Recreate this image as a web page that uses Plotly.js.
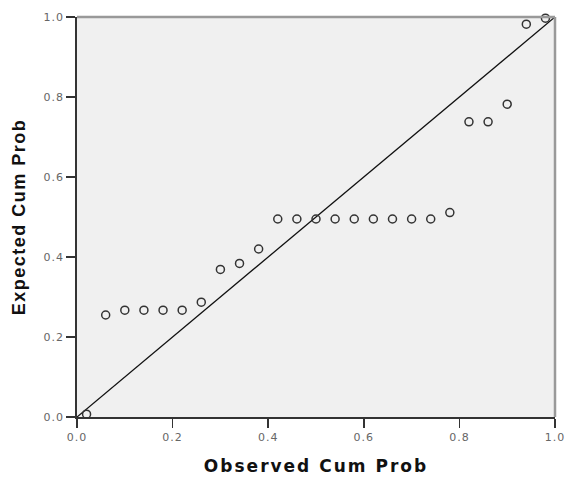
<!DOCTYPE html>
<html>
<head>
<meta charset="utf-8">
<script src="https://cdn.plot.ly/plotly-3.0.1.min.js"></script>
<style>
html,body{margin:0;padding:0;background:#fff;}
#chart{width:565px;height:477px;}
#chart .xtitle{letter-spacing:2px;}
#chart .ytitle{letter-spacing:1.5px;}
#chart .xtick text, #chart .ytick text{letter-spacing:1px;}
</style>
</head>
<body>
<div id="chart"></div>
<script>
const observed = [0.02,0.06,0.10,0.14,0.18,0.22,0.26,0.30,0.34,0.38,0.42,0.46,0.50,0.54,0.58,0.62,0.66,0.70,0.74,0.78,0.82,0.86,0.90,0.94,0.98];
const expected = [0.007,0.255,0.267,0.267,0.267,0.267,0.287,0.369,0.384,0.42,0.495,0.495,0.495,0.495,0.495,0.495,0.495,0.495,0.495,0.511,0.738,0.738,0.782,0.982,0.997];
const refLine = [0, 1];
const tickVals = [0, 0.2, 0.4, 0.6, 0.8, 1.0];
const tickText = ["0.0", "0.2", "0.4", "0.6", "0.8", "1.0"];

const traces = [
  {x: refLine, y: refLine, mode: 'lines', line: {color: '#111', width: 1.3}, hoverinfo: 'skip'},
  {x: observed, y: expected, mode: 'markers', cliponaxis: false,
   marker: {symbol: 'circle-open', size: 8, color: '#333', line: {width: 1.5, color: '#333'}}}
];

const axisCommon = {
  range: [0, 1], tickvals: tickVals, ticktext: tickText,
  ticks: 'outside', ticklen: 9, tickwidth: 1.5, tickcolor: '#333',
  showline: true, linecolor: '#333', linewidth: 1.8,
  showgrid: false, zeroline: false,
  tickfont: {family: 'DejaVu Sans, Verdana, sans-serif', size: 11, color: '#666'}
};

const layout = {
  width: 565, height: 477,
  margin: {l: 77, r: 10, t: 17, b: 60},
  paper_bgcolor: '#ffffff', plot_bgcolor: '#f0f0f0',
  showlegend: false,
  xaxis: Object.assign({}, axisCommon, {
    title: {text: 'Observed Cum Prob', standoff: 17,
      font: {family: 'DejaVu Sans, Verdana, sans-serif', size: 17, color: '#111', weight: 'bold'}}
  }),
  yaxis: Object.assign({}, axisCommon, {
    ticklabelstandoff: 0,
    title: {text: 'Expected Cum Prob', standoff: 16,
      font: {family: 'Liberation Sans, Arial, sans-serif', size: 18, color: '#111', weight: 'bold'}}
  }),
  shapes: [
    {type: 'line', xref: 'paper', yref: 'paper', x0: 0, x1: 1, y0: 1, y1: 1, line: {color: '#999', width: 2.5}},
    {type: 'line', xref: 'paper', yref: 'paper', x0: 1, x1: 1, y0: 0, y1: 1, line: {color: '#999', width: 2.5}}
  ]
};

Plotly.newPlot('chart', traces, layout, {displayModeBar: false, staticPlot: true});
</script>
</body>
</html>
